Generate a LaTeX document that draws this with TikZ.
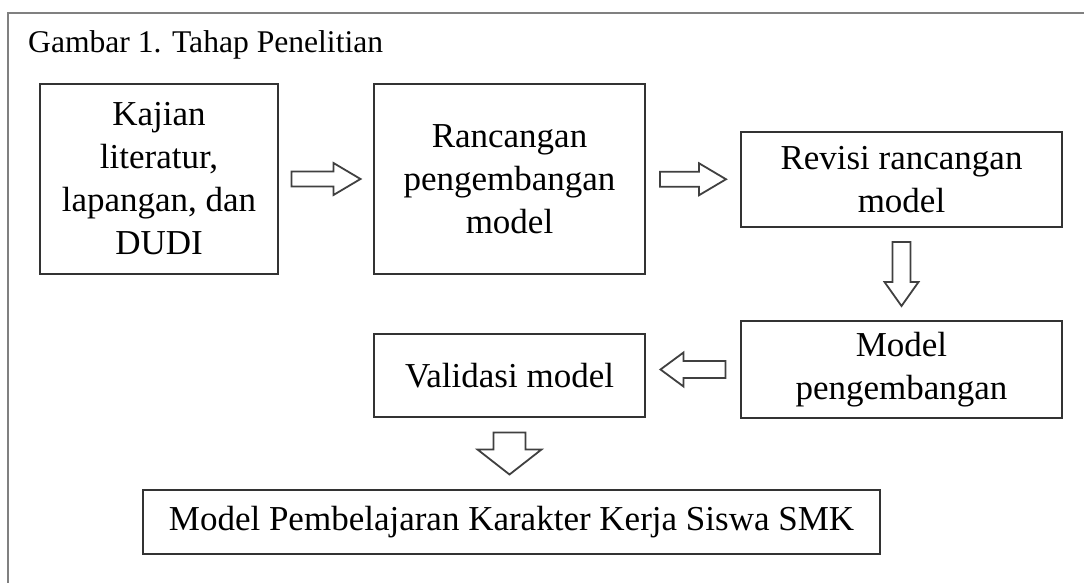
\documentclass[tikz,border=0pt]{standalone}
\usepackage{fontspec}
\setmainfont{Liberation Serif}
\usetikzlibrary{calc}
\begin{document}
\begin{tikzpicture}[x=1pt,y=-1pt,
  box/.style={draw=black!80, line width=2pt, fill=white, inner sep=0pt, align=center,
    font=\fontsize{35}{43}\selectfont},
  blockarrow/.style={draw=black!75, line width=1.8pt, fill=white, line join=miter},
  frameline/.style={draw=black!50, line width=2pt}]
\useasboundingbox (0,0) rectangle (1084,583);
\draw[frameline] (8,583) -- (8,13) -- (1084,13);
\node[anchor=base west, font=\fontsize{31.6}{38}\selectfont, inner sep=0pt] (title) at (28,53) {Gambar 1. Tahap Penelitian};

\node[box, minimum width=238pt, minimum height=190pt] (b1) at (159,179) {Kajian\\literatur,\\lapangan, dan\\DUDI};
\node[box, minimum width=271pt, minimum height=190pt] (b2) at (509.5,179) {Rancangan\\pengembangan\\model};
\node[box, minimum width=321pt, minimum height=95pt] (b3) at (901.5,179.5) {Revisi rancangan\\model};
\node[box, minimum width=321pt, minimum height=97pt] (b4) at (901.5,369.5) {Model\\pengembangan};
\node[box, minimum width=271pt, minimum height=83pt] (b5) at (509.5,375.5) {Validasi model};
\node[box, minimum width=737pt, minimum height=64pt] (b6) at (511.5,522) {Model Pembelajaran Karakter Kerja Siswa SMK};

\coordinate (m1) at ($(b1.east)!0.5!(b2.west)$);
\coordinate (m2) at ($(b2.east)!0.5!(b3.west)$);
\coordinate (m3) at ($(b3.south)!0.5!(b4.north)$);
\coordinate (m4) at ($(b4.west)!0.5!(b5.east|-b4.west)$);
\coordinate (m5) at ($(b5.south)!0.5!(b6.north-|b5.south)$);

\draw[blockarrow, shift={(m1)}] (-34.5,-7.5) -- (7.5,-7.5) -- (7.5,-16) -- (34.5,0) -- (7.5,16) -- (7.5,7.5) -- (-34.5,7.5) -- cycle;
\draw[blockarrow, shift={(m2)}] (-33,-7.5) -- (6,-7.5) -- (6,-16) -- (33,0) -- (6,16) -- (6,7.5) -- (-33,7.5) -- cycle;
\draw[blockarrow, shift={(m3)}] (-9,-32) -- (9,-32) -- (9,8) -- (17,8) -- (0,32) -- (-17,8) -- (-9,8) -- cycle;
\draw[blockarrow, shift={(m4)}] (32.5,-8.5) -- (-9.5,-8.5) -- (-9.5,-17) -- (-32.5,0) -- (-9.5,17) -- (-9.5,8.5) -- (32.5,8.5) -- cycle;
\draw[blockarrow, shift={(m5)}] (-16,-21) -- (16,-21) -- (16,-4) -- (32,-4) -- (0,21) -- (-32,-4) -- (-16,-4) -- cycle;
\end{tikzpicture}
\end{document}
